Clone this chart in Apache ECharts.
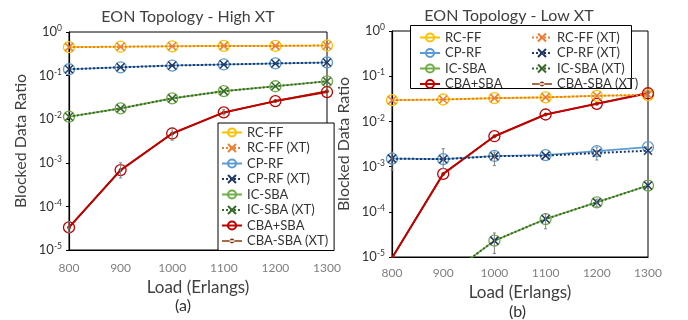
<!DOCTYPE html>
<html>
<head>
<meta charset="utf-8">
<script src="https://cdn.jsdelivr.net/npm/echarts@6/dist/echarts.min.js"></script>
<style>
  html, body { margin: 0; padding: 0; background: #fff; }
  #main { width: 688px; height: 320px; }
</style>
</head>
<body>
<div id="main"></div>
<script>
// x 轴：负载
var loads = [800, 900, 1000, 1100, 1200, 1300];

// (a) High XT
var hiRcff    = [0.45, 0.46, 0.47, 0.48, 0.48, 0.49];
var hiRcffXT  = [0.45, 0.46, 0.47, 0.48, 0.48, 0.49];
var hiCprf    = [0.14, 0.155, 0.17, 0.18, 0.19, 0.20];
var hiCprfXT  = [0.14, 0.155, 0.17, 0.18, 0.19, 0.20];
var hiIcsba   = [0.0114, 0.0177, 0.030, 0.044, 0.057, 0.074];
var hiIcsbaXT = [0.0114, 0.0177, 0.030, 0.044, 0.057, 0.074];
var hiCba     = [3.3e-5, 6.8e-4, 4.7e-3, 0.0143, 0.026, 0.042];
var hiCbaXT   = [3.3e-5, 6.8e-4, 4.7e-3, 0.0143, 0.026, 0.044];
// 误差棒 [x, 下限, 上限]
var hiErr = [[800, 2.5e-5, 4.5e-5], [900, 4.5e-4, 1e-3], [1000, 3.3e-3, 6.3e-3], [1100, 1.25e-2, 1.65e-2]];

// (b) Low XT
var loRcff    = [0.0295, 0.0305, 0.0327, 0.034, 0.0368, 0.038];
var loRcffXT  = [0.0295, 0.0305, 0.0327, 0.034, 0.0368, 0.039];
var loCprf    = [1.5e-3, 1.46e-3, 1.72e-3, 1.8e-3, 2.2e-3, 2.7e-3];
var loCprfXT  = [1.5e-3, 1.46e-3, 1.7e-3, 1.75e-3, 2.0e-3, 2.25e-3];
var loIcsba   = [8e-7, 3.3e-6, 2.3e-5, 6.9e-5, 1.62e-4, 3.8e-4];
var loIcsbaXT = [8e-7, 3.3e-6, 2.3e-5, 6.9e-5, 1.62e-4, 3.8e-4];
var loCba     = [9.5e-6, 6.9e-4, 4.7e-3, 0.0142, 0.0245, 0.042];
var loCbaXT   = [9.5e-6, 6.9e-4, 4.7e-3, 0.0142, 0.0245, 0.043];
var loErr = [[800, 8.3e-4, 2.1e-3], [900, 9e-4, 2.5e-3], [1000, 1.05e-3, 2.1e-3], [1200, 1.4e-3, 2.7e-3],
             [1000, 1.2e-5, 3.4e-5], [1100, 4.2e-5, 9.1e-5], [1200, 1.3e-4, 1.9e-4], [1300, 3.8e-2, 4.8e-2]];

var names = ['RC-FF', 'RC-FF (XT)', 'CP-RF', 'CP-RF (XT)', 'IC-SBA', 'IC-SBA (XT)', 'CBA+SBA', 'CBA-SBA (XT)'];

var FONT = 'Lato';
var X_PATH = 'path://M0,0L10,10M0,10L10,0';
// 图例里的 "线 + 小圆点"
var DOT_LINE = 'path://M0,4.3H20V5.7H0Z M7.6,5A2.4,2.4,0,1,0,12.4,5A2.4,2.4,0,1,0,7.6,5Z';

function pairs(arr) {
    return arr.map(function (v, i) { return [loads[i], v]; });
}

function circleSeries(name, data, color, idx, width) {
    return {
        name: name, type: 'line', xAxisIndex: idx, yAxisIndex: idx,
        data: pairs(data), symbol: 'circle', symbolSize: 11, z: 3,
        itemStyle: { color: 'rgba(255,255,255,0)', borderColor: color, borderWidth: 1.3 },
        lineStyle: { color: color, width: width || 1.6 }
    };
}

function crossSeries(name, data, color, idx, markColor) {
    return {
        name: name, type: 'line', xAxisIndex: idx, yAxisIndex: idx,
        data: pairs(data), symbol: X_PATH, symbolSize: 8, z: 4,
        itemStyle: { color: 'rgba(255,255,255,0)', borderColor: markColor || color, borderWidth: 1.5 },
        lineStyle: { color: color, width: 2, type: 'dotted' }
    };
}

function dotSeries(name, data, color, idx) {
    return {
        name: name, type: 'line', xAxisIndex: idx, yAxisIndex: idx,
        data: pairs(data), symbol: 'circle', symbolSize: 4, z: 2,
        itemStyle: { color: color },
        lineStyle: { color: color, width: 1.6 }
    };
}

function errSeries(data, idx) {
    return {
        type: 'custom', xAxisIndex: idx, yAxisIndex: idx, z: 5, silent: true,
        data: data,
        renderItem: function (params, api) {
            var top = api.coord([api.value(0), api.value(2)]);
            var bot = api.coord([api.value(0), api.value(1)]);
            var st = { stroke: '#7f7f7f', lineWidth: 1 };
            return {
                type: 'group',
                children: [
                    { type: 'line', shape: { x1: top[0], y1: top[1], x2: bot[0], y2: bot[1] }, style: st },
                    { type: 'line', shape: { x1: top[0] - 1.5, y1: top[1], x2: top[0] + 1.5, y2: top[1] }, style: st },
                    { type: 'line', shape: { x1: bot[0] - 1.5, y1: bot[1], x2: bot[0] + 1.5, y2: bot[1] }, style: st }
                ]
            };
        }
    };
}

function xAx(idx, margin, gap) {
    return {
        type: 'value', gridIndex: idx, min: 800, max: 1300, interval: 100,
        name: 'Load (Erlangs)', nameLocation: 'middle', nameGap: gap,
        nameTextStyle: { fontFamily: FONT, fontSize: 17, color: '#404040' },
        axisLine: { show: true, onZero: false, lineStyle: { color: '#000', width: 1.2 } },
        axisTick: { show: false },
        splitLine: { show: false },
        axisLabel: { fontFamily: FONT, fontSize: 12, color: '#7f7f7f', margin: margin,
                     formatter: function (v) { return String(v); } }
    };
}

function yAx(idx) {
    return {
        type: 'log', gridIndex: idx, logBase: 10, min: 1e-5, max: 1,
        name: 'Blocked Data Ratio', nameLocation: 'middle', nameGap: 40,
        nameTextStyle: { fontFamily: FONT, fontSize: 16, color: '#404040' },
        axisLine: { show: true, lineStyle: { color: '#000', width: 1.2 } },
        axisTick: { show: true, length: 3, lineStyle: { color: '#000' } },
        splitLine: { show: false },
        axisLabel: {
            margin: 7,
            formatter: function (v) {
                var e = Math.round(Math.log10(v));
                return '{b|10}{s|' + e + '}';
            },
            rich: {
                b: { fontFamily: FONT, fontSize: 13, color: '#333', lineHeight: 16 },
                s: { fontFamily: FONT, fontSize: 8.5, color: '#333', verticalAlign: 'top', lineHeight: 10 }
            }
        }
    };
}

var cGold = '#FFC000', cOrange = '#ED7D31', cBlue = '#5B9BD5', cNavy = '#203864',
    cGreen = '#70AD47', cDkGreen = '#38692A', cRed = '#C00000', cBrown = '#8B3A0F';

var series = [
    circleSeries(names[0], hiRcff, cGold, 0),
    crossSeries(names[1], hiRcffXT, cOrange, 0),
    circleSeries(names[2], hiCprf, cBlue, 0),
    crossSeries(names[3], hiCprfXT, cNavy, 0),
    circleSeries(names[4], hiIcsba, cGreen, 0),
    crossSeries(names[5], hiIcsbaXT, cDkGreen, 0),
    circleSeries(names[6], hiCba, cRed, 0, 2),
    dotSeries(names[7], hiCbaXT, cBrown, 0),
    errSeries(hiErr, 0),

    circleSeries(names[0], loRcff, cGold, 1),
    crossSeries(names[1], loRcffXT, cOrange, 1),
    circleSeries(names[2], loCprf, cBlue, 1),
    crossSeries(names[3], loCprfXT, cNavy, 1),
    circleSeries(names[4], loIcsba, cGreen, 1),
    crossSeries(names[5], loIcsbaXT, cDkGreen, 1, cNavy),
    circleSeries(names[6], loCba, cRed, 1, 2),
    dotSeries(names[7], loCbaXT, cBrown, 1),
    errSeries(loErr, 1)
];

var legendText = { fontFamily: FONT, fontSize: 13, color: '#333' };
var brownItem = { name: names[7], icon: DOT_LINE, itemStyle: { color: cBrown, borderWidth: 0 } };

var option = {
    animation: false,
    backgroundColor: '#fff',
    title: [
        { text: 'EON Topology - High XT', left: 183, top: 4, textAlign: 'center',
          textStyle: { fontFamily: FONT, fontSize: 16, fontWeight: 'normal', color: '#404040' } },
        { text: 'EON Topology - Low XT', left: 504, top: 3, textAlign: 'center',
          textStyle: { fontFamily: FONT, fontSize: 16, fontWeight: 'normal', color: '#404040' } }
    ],
    grid: [
        { left: 69, top: 32, width: 258, height: 218, show: true, borderColor: '#000', borderWidth: 1 },
        { left: 392, top: 31, width: 256, height: 226, show: true, borderColor: '#000', borderWidth: 1 }
    ],
    xAxis: [xAx(0, 12, 26), xAx(1, 10, 27)],
    yAxis: [yAx(0), yAx(1)],
    legend: [
        { data: names.slice(0, 7).concat([brownItem]), orient: 'vertical', left: 218, top: 123, padding: [3, 6, 3, 3],
          borderColor: '#000', borderWidth: 1, backgroundColor: '#fff',
          itemWidth: 20, itemHeight: 10, itemGap: 2.5, textStyle: legendText,
          selectedMode: false },
        { data: [names[0], names[2], names[4], names[6]], orient: 'vertical', left: 414, top: 26,
          itemWidth: 20, itemHeight: 10, itemGap: 2.5, textStyle: legendText, selectedMode: false, z: 6 },
        { data: [names[1], names[3], names[5], brownItem], orient: 'vertical', left: 526, top: 26,
          itemWidth: 20, itemHeight: 10, itemGap: 2.5, textStyle: legendText, selectedMode: false, z: 6 }
    ],
    graphic: [
        { type: 'rect', left: 410, top: 25, z: 5,
          shape: { width: 221, height: 63 }, style: { fill: '#fff', stroke: '#000', lineWidth: 1 } },
        { type: 'text', left: 175, top: 298,
          style: { text: '(a)', fontFamily: FONT, fontSize: 16, fill: '#333' } },
        { type: 'text', left: 509, top: 304,
          style: { text: '(b)', fontFamily: FONT, fontSize: 16, fill: '#333' } }
    ],
    series: series
};

var chart = echarts.init(document.getElementById('main'));
chart.setOption(option);
</script>
</body>
</html>
